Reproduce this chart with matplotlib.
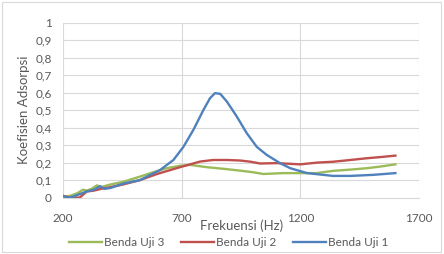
import matplotlib
matplotlib.use("Agg")
import matplotlib.pyplot as plt
from matplotlib.ticker import FuncFormatter

# Benda Uji 3 (green)
f3 = [200, 230, 260, 284, 300, 320, 343, 360, 400, 453, 524, 580, 637, 693, 735, 805, 880, 946, 1000, 1044, 1127, 1200, 1268, 1338, 1410, 1480, 1540, 1600]
a3 = [0.005, 0.01, 0.025, 0.045, 0.04, 0.05, 0.07, 0.06, 0.075, 0.09, 0.12, 0.145, 0.168, 0.182, 0.187, 0.174, 0.164, 0.154, 0.145, 0.135, 0.14, 0.14, 0.14, 0.153, 0.16, 0.168, 0.178, 0.19]
# Benda Uji 2 (red)
f2 = [200, 230, 270, 300, 330, 360, 400, 453, 524, 596, 693, 777, 833, 890, 946, 990, 1030, 1100, 1199, 1270, 1338, 1410, 1480, 1540, 1600]
a2 = [0.01, 0.0, 0.0, 0.035, 0.04, 0.05, 0.06, 0.075, 0.10, 0.135, 0.174, 0.206, 0.215, 0.215, 0.212, 0.205, 0.195, 0.197, 0.19, 0.2, 0.205, 0.215, 0.225, 0.232, 0.24]
# Benda Uji 1 (blue)
f1 = [200, 215, 242, 270, 300, 330, 356, 375, 400, 453, 524, 609, 665, 707, 749, 791, 819, 840, 862, 890, 932, 974, 1016, 1058, 1114, 1157, 1228, 1338, 1409, 1506, 1600]
a1 = [0.01, 0.0, 0.005, 0.02, 0.035, 0.045, 0.065, 0.05, 0.055, 0.08, 0.10, 0.158, 0.215, 0.29, 0.387, 0.50, 0.568, 0.597, 0.593, 0.549, 0.463, 0.368, 0.29, 0.244, 0.197, 0.168, 0.14, 0.124, 0.124, 0.13, 0.14]

xticks = [200, 700, 1200, 1700]
yticks = [0, 0.1, 0.2, 0.3, 0.4, 0.5, 0.6, 0.7, 0.8, 0.9, 1.0]

plt.rcParams['font.family'] = ['Lato', 'DejaVu Sans']
txt = '#595959'

fig = plt.figure(figsize=(4.44, 2.54), dpi=100)
fig.patch.set_facecolor('white')
ax = fig.add_axes([0.142, 0.222, 0.802, 0.689])

ax.plot(f3, a3, color='#9BBB59', lw=1.7, label='Benda Uji 3', zorder=3)
ax.plot(f2, a2, color='#C0504D', lw=1.7, label='Benda Uji 2', zorder=3)
ax.plot(f1, a1, color='#4F81BD', lw=1.7, label='Benda Uji 1', zorder=4)

ax.set_xlim(200, 1700)
ax.set_ylim(0, 1)
ax.set_xticks(xticks)
ax.set_yticks(yticks)
ax.yaxis.set_major_formatter(FuncFormatter(lambda v, p: ('%g' % round(v, 1)).replace('.', ',')))
ax.grid(True, color='#d9d9d9', lw=0.8)
ax.set_axisbelow(True)
for s in ['top', 'right', 'left']:
    ax.spines[s].set_visible(False)
ax.spines['bottom'].set_color('#d9d9d9')
ax.tick_params(length=0, labelsize=8.5, colors=txt)
ax.tick_params(axis='x', pad=11)
ax.tick_params(axis='y', pad=8)

ax.set_xlabel('Frekuensi (Hz)', fontsize=9.5, color=txt, labelpad=-3)
ax.set_ylabel('Koefisien Adsorpsi', fontsize=9.5, color=txt, labelpad=4)

leg = fig.legend(loc='center', bbox_to_anchor=(0.515, 0.045), ncol=3, frameon=False,
                 fontsize=8.5, handlelength=2.8, columnspacing=1.4, handletextpad=0.2)
for t in leg.get_texts():
    t.set_color(txt)

border = plt.Rectangle((0.004, 0.006), 0.99, 0.985, transform=fig.transFigure,
                       fill=False, edgecolor='#d9d9d9', lw=0.8)
fig.patches.append(border)

fig.savefig('out.png', dpi=100)
